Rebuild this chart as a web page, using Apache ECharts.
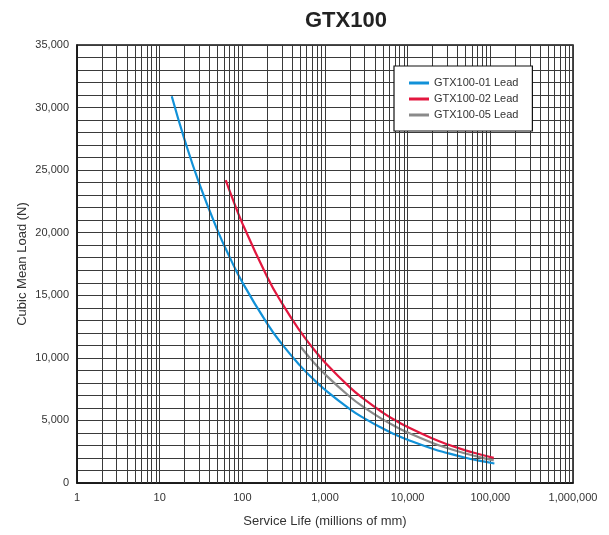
<!DOCTYPE html>
<html>
<head>
<meta charset="utf-8">
<script src="https://cdn.jsdelivr.net/npm/echarts@6/dist/echarts.min.js"></script>
<style>
  html, body { margin: 0; padding: 0; background: #fff; }
  #chart { width: 609px; height: 535px; }
</style>
</head>
<body>
<div id="chart"></div>
<script>
// service life (millions of mm) and cubic mean load (N)
const lead01Life = [14, 20, 30, 50, 70, 100, 200, 300, 500, 700, 1000, 2000, 3000, 5000, 7000, 10000, 20000, 30000, 50000, 70000, 112000];
const lead01Load = [30900, 27440, 23970, 20210, 18070, 16040, 12730, 11120, 9380, 8390, 7450, 5910, 5160, 4350, 3890, 3460, 2740, 2400, 2020, 1810, 1560];

const lead02Life = [63, 70, 100, 200, 300, 500, 700, 1000, 2000, 3000, 5000, 7000, 10000, 20000, 30000, 50000, 70000, 110000];
const lead02Load = [24200, 23370, 20750, 16470, 14390, 12130, 10850, 9630, 7640, 6680, 5630, 5030, 4470, 3550, 3100, 2610, 2340, 2010];

const lead05Life = [510, 700, 1000, 2000, 3000, 5000, 7000, 10000, 20000, 30000, 50000, 70000, 110000];
const lead05Load = [10870, 9780, 8690, 6890, 6020, 5080, 4540, 4030, 3200, 2800, 2360, 2110, 1810];

const seriesNames = ['GTX100-01 Lead', 'GTX100-02 Lead', 'GTX100-05 Lead'];
const seriesColors = ['#1191d8', '#e3173f', '#8a8a8a'];

// minor vertical grid lines at 2..9 of every decade
const decades = [1, 10, 100, 1000, 10000, 100000];
const minorSteps = [2, 3, 4, 5, 6, 7, 8, 9];

function pairs(xs, ys) {
  return xs.map((x, i) => [x, ys[i]]);
}
function commas(v) {
  return String(v).replace(/\B(?=(\d{3})+(?!\d))/g, ',');
}

const minorLines = [];
decades.forEach(d => minorSteps.forEach(s => minorLines.push({ xAxis: d * s })));

const font = 'Liberation Sans, Arial, sans-serif';
const gridColor = '#3a3a3a';

const chart = echarts.init(document.getElementById('chart'));
const lines = [pairs(lead01Life, lead01Load), pairs(lead02Life, lead02Load), pairs(lead05Life, lead05Load)];

const option = {
  animation: false,
  title: {
    text: 'GTX100',
    left: 300,
    top: 5,
    textStyle: { fontFamily: font, fontSize: 22, fontWeight: 'bold', color: '#222' }
  },
  grid: {
    left: 77,
    right: 36,
    top: 45,
    bottom: 52,
    show: true,
    borderColor: '#111',
    borderWidth: 1.5,
    backgroundColor: '#fff'
  },
  legend: {
    data: seriesNames,
    orient: 'vertical',
    left: 394,
    top: 66,
    z: 20,
    icon: 'rect',
    itemWidth: 20,
    itemHeight: 3,
    itemGap: 4,
    padding: [11, 14, 10, 15],
    backgroundColor: '#fff',
    borderColor: '#111',
    borderWidth: 1.2,
    borderRadius: 0,
    textStyle: { fontFamily: font, fontSize: 11, color: '#333', lineHeight: 12 }
  },
  xAxis: {
    type: 'log',
    logBase: 10,
    min: 1,
    max: 1000000,
    name: 'Service Life (millions of mm)',
    nameLocation: 'middle',
    nameGap: 32,
    nameTextStyle: { fontFamily: font, fontSize: 13, color: '#333' },
    axisLine: { show: true, lineStyle: { color: '#111', width: 1.5 } },
    axisTick: { show: false },
    axisLabel: { fontFamily: font, fontSize: 11, color: '#333', margin: 9, formatter: v => commas(v) },
    splitLine: { show: true, lineStyle: { color: gridColor, width: 1 } }
  },
  yAxis: {
    type: 'value',
    min: 0,
    max: 35000,
    interval: 5000,
    name: 'Cubic Mean Load (N)',
    nameLocation: 'middle',
    nameGap: 48,
    nameMoveOverlap: false,
    nameTextStyle: { fontFamily: font, fontSize: 13, color: '#333' },
    axisLine: { show: true, lineStyle: { color: '#111', width: 1.5 } },
    axisTick: { show: false },
    axisLabel: { fontFamily: font, fontSize: 11, color: '#333', margin: 8, formatter: v => commas(v) },
    splitLine: { show: true, lineStyle: { color: gridColor, width: 1 } },
    minorTick: { show: false, splitNumber: 5 },
    minorSplitLine: { show: true, lineStyle: { color: gridColor, width: 1 } }
  },
  series: [
    {
      name: 'grid',
      type: 'line',
      data: [[1, 0]],
      showSymbol: false,
      silent: true,
      z: 1,
      lineStyle: { opacity: 0 },
      markLine: {
        silent: true,
        symbol: ['none', 'none'],
        label: { show: false },
        lineStyle: { color: gridColor, width: 1, type: 'solid' },
        emphasis: { disabled: true },
        data: minorLines
      }
    }
  ].concat(seriesNames.map((name, i) => ({
    name: name,
    type: 'line',
    data: lines[i],
    smooth: true,
    showSymbol: false,
    z: 3,
    itemStyle: { color: seriesColors[i] },
    lineStyle: { color: seriesColors[i], width: 2.2 }
  })))
};

chart.setOption(option);
</script>
</body>
</html>
